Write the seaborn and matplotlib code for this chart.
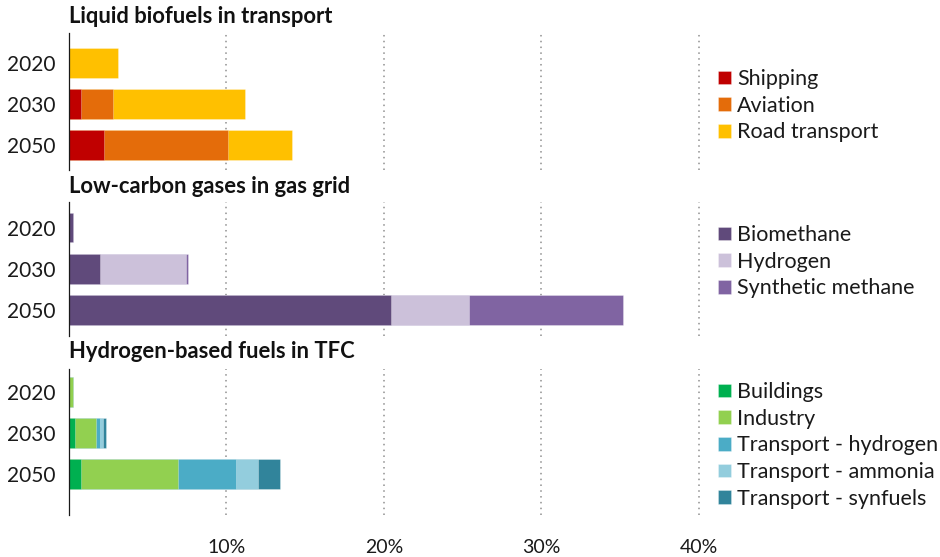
import matplotlib
matplotlib.use("Agg")
import matplotlib.pyplot as plt
import seaborn as sns
import numpy as np

years = ["2020", "2030", "2050"]

# Liquid biofuels in transport (% share)
shipping = [0.0, 0.78, 2.24]
aviation = [0.0, 2.0, 7.85]
road_transport = [3.1, 8.4, 4.1]

# Low-carbon gases in gas grid (% share)
biomethane = [0.25, 1.97, 20.45]
hydrogen_grid = [0.0, 5.43, 4.95]
synthetic_methane = [0.0, 0.17, 9.8]

# Hydrogen-based fuels in total final consumption (% share)
buildings = [0.0, 0.4, 0.78]
industry = [0.23, 1.31, 6.12]
transport_hydrogen = [0.0, 0.23, 3.7]
transport_ammonia = [0.0, 0.25, 1.38]
transport_synfuels = [0.0, 0.15, 1.43]

x_ticks = [10, 20, 30, 40]
x_tick_labels = ["10%", "20%", "30%", "40%"]

panels = [
    {
        "title": "Liquid biofuels in transport",
        "series": [("Shipping", shipping, "#C00000"),
                   ("Aviation", aviation, "#E46C0A"),
                   ("Road transport", road_transport, "#FFC000")],
    },
    {
        "title": "Low-carbon gases in gas grid",
        "series": [("Biomethane", biomethane, "#604A7B"),
                   ("Hydrogen", hydrogen_grid, "#CCC1DA"),
                   ("Synthetic methane", synthetic_methane, "#8064A2")],
    },
    {
        "title": "Hydrogen-based fuels in TFC",
        "series": [("Buildings", buildings, "#00B050"),
                   ("Industry", industry, "#92D050"),
                   ("Transport - hydrogen", transport_hydrogen, "#4BACC6"),
                   ("Transport - ammonia", transport_ammonia, "#93CDDD"),
                   ("Transport - synfuels", transport_synfuels, "#31849B")],
    },
]

sns.set_theme(style="white")
plt.rcParams["font.family"] = ["Lato", "DejaVu Sans"]

W, H = 940, 557
fig = plt.figure(figsize=(W / 100, H / 100), dpi=100)

# pixel layout helpers
def px_axes(left, top, right, bottom):
    return fig.add_axes([left / W, 1 - bottom / H, (right - left) / W, (bottom - top) / H])

# (axes top, axes bottom, ylim bottom, ylim top, title baseline, legend top)
layout = [
    (33, 170, 2.6, -0.72, 23, 69),
    (202, 336, 2.63, -0.62, 193, 225),
    (369, 515, 3.0, -0.56, 358, 382),
]

x_left, x_right, x_max = 69, 702, 40.2

for i, (panel, (top, bottom, yb, yt, tb, lt)) in enumerate(zip(panels, layout)):
    ax = px_axes(x_left, top, x_right, bottom)
    series = panel["series"]
    cums = np.cumsum([np.array(v, dtype=float) for _, v, _ in series], axis=0)
    # stacked bars: draw cumulative totals from the outermost segment inward
    for (name, _, color), cum in reversed(list(zip(series, cums))):
        sns.barplot(x=cum, y=years, order=years, orient="h", color=color,
                    saturation=1, width=0.72, ax=ax, label=name,
                    edgecolor=(1, 1, 1, 0.5), linewidth=0.4)
    ax.set_xlim(0, x_max)
    ax.set_ylim(yb, yt)
    ax.set_xticks(x_ticks)
    ax.set_xlabel("")
    ax.set_ylabel("")
    ax.grid(axis="x", color="#8f8f8f", linestyle=(0, (1, 2.8)), linewidth=1.1)
    ax.grid(axis="y", visible=False)
    ax.set_axisbelow(True)
    for s in ["top", "right", "bottom"]:
        ax.spines[s].set_visible(False)
    ax.spines["left"].set_color("#1a1a1a")
    ax.spines["left"].set_linewidth(0.9)
    ax.tick_params(axis="y", length=0, pad=10, labelsize=15, labelcolor="#1a1a1a")
    if i == len(panels) - 1:
        ax.set_xticklabels(x_tick_labels)
        ax.tick_params(axis="x", length=0, pad=17, labelsize=14, labelcolor="#1a1a1a")
    else:
        ax.tick_params(axis="x", length=0, labelbottom=False)

    fig.text(x_left / W, 1 - tb / H, panel["title"], fontsize=15.8,
             fontweight="bold", color="#111111", va="baseline", ha="left")

    handles, labels = ax.get_legend_handles_labels()
    if ax.get_legend() is not None:
        ax.get_legend().remove()
    fig.legend(handles[::-1], labels[::-1], loc="upper left",
               bbox_to_anchor=(718 / W, 1 - lt / H), frameon=False,
               fontsize=15.5, handlelength=0.6, handleheight=0.6,
               handletextpad=0.28, labelspacing=0.31, borderpad=0,
               borderaxespad=0, labelcolor="#1a1a1a")

fig.savefig("out.png", dpi=100, facecolor="white")
